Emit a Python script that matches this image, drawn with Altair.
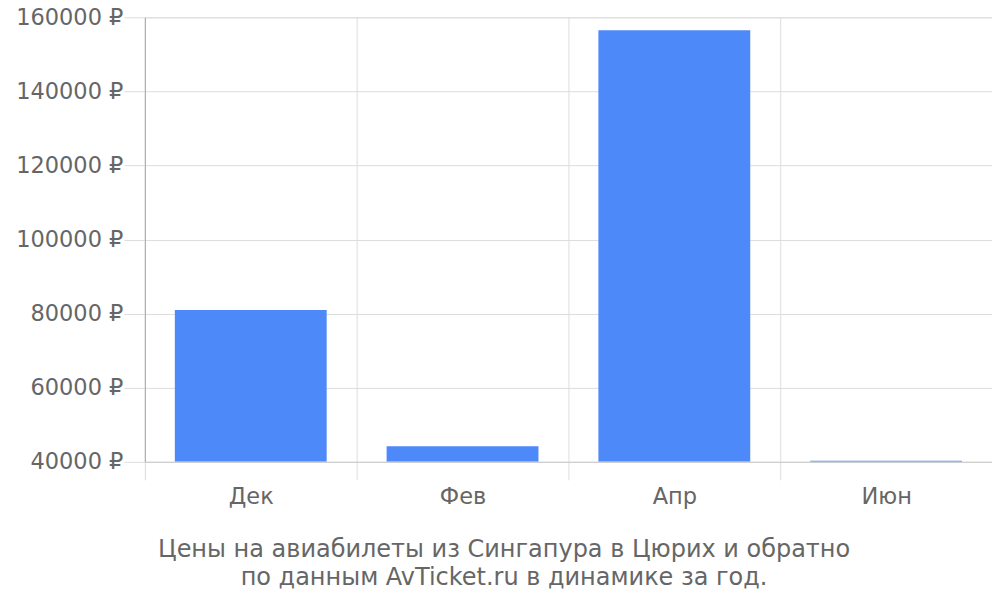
import altair as alt
import pandas as pd

months = ["Дек", "Фев", "Апр", "Июн"]
prices = [81000, 44200, 156500, 40300]
y_ticks = [40000, 60000, 80000, 100000, 120000, 140000, 160000]
title_lines = ["Цены на авиабилеты из Сингапура в Цюрих и обратно",
               "по данным AvTicket.ru в динамике за год."]

df = pd.DataFrame({"month": months, "price": prices})

chart = alt.Chart(df).mark_bar(color="#4d89f9", clip=True,
                               width=alt.RelativeBandSize(0.717)).encode(
    x=alt.X("month:N", sort=months,
            scale=alt.Scale(paddingInner=0, paddingOuter=0),
            axis=alt.Axis(title=None, tickBand="extent", grid=True, gridColor="#dddddd",
                          domainColor="#cccccc", tickColor="#dddddd", tickSize=18,
                          labelAngle=0, labelBaseline="middle",
                          labelFontSize=22.5, labelColor="#666666", labelPadding=17,
                          labelFont="DejaVu Sans")),
    y=alt.Y("price:Q",
            scale=alt.Scale(domain=[40000, 160000], zero=False, nice=False),
            axis=alt.Axis(title=None, values=y_ticks, labelExpr="datum.value + ' ₽'",
                          grid=True, gridColor="#dddddd", domainColor="#aaaaaa",
                          tickColor="#dddddd", tickSize=21, labelPadding=1,
                          labelFontSize=22.5, labelColor="#666666",
                          labelFont="DejaVu Sans")),
    y2=alt.datum(40000),
).properties(
    width=848, height=445,
    padding={"left": 137, "top": 9, "right": 0, "bottom": 130},
    autosize=alt.AutoSizeParams(type="none"),
    title=alt.TitleParams(title_lines, orient="bottom", anchor="middle", frame="bounds",
                          fontSize=24, color="#666666", font="DejaVu Sans",
                          fontWeight="normal", offset=30, lineHeight=28),
).configure_view(stroke=None).configure(background="white")

chart.save("out.html", embed_options={"renderer": "svg", "actions": False})
